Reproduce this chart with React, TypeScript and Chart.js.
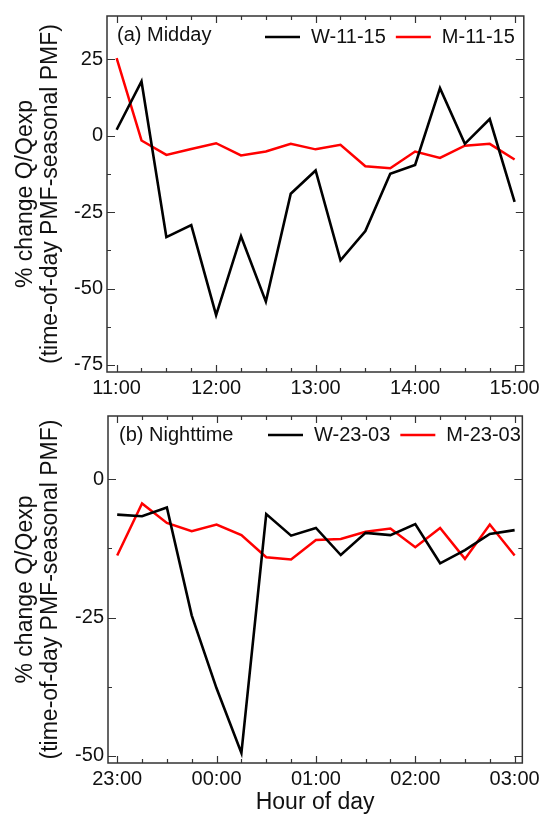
import React, { useEffect, useRef } from 'react';
import { Chart, registerables } from 'chart.js';

Chart.register(...registerables);

// ---- data ----
const quarterSteps = [0, 1, 2, 3, 4, 5, 6, 7, 8, 9, 10, 11, 12, 13, 14, 15, 16];
const middayHourLabels = ['11:00', '12:00', '13:00', '14:00', '15:00'];
const nightHourLabels = ['23:00', '00:00', '01:00', '02:00', '03:00'];

const wMidday = [1.9, 17.7, -33.2, -29.3, -58.7, -32.9, -54.3, -19.0, -11.4, -40.8, -31.2, -12.5, -9.6, 15.5, -2.7, 5.4, -21.7];
const mMidday = [25.3, -1.6, -6.3, -4.4, -2.5, -6.5, -5.2, -2.7, -4.5, -3.0, -10.0, -10.7, -5.2, -7.3, -3.3, -2.7, -7.8];

const wNight = [-6.4, -6.7, -5.1, -24.6, -37.8, -49.5, -6.3, -10.2, -8.8, -13.7, -9.7, -10.1, -8.1, -15.2, -12.8, -9.9, -9.2];
const mNight = [-13.8, -4.4, -7.9, -9.4, -8.2, -10.1, -14.1, -14.5, -11.0, -10.8, -9.5, -8.9, -12.3, -8.8, -14.4, -8.2, -13.8];

const middayYTicks = [-75, -62.5, -50, -37.5, -25, -12.5, 0, 12.5, 25];
const nightYTicks = [-50, -37.5, -25, -12.5, 0];

const FONT = '"Liberation Sans", Arial, Helvetica, sans-serif';
const TEXT = '#111111';
const FRAME = '#333333';

const decorPlugin = {
  id: 'panelDecor',
  afterDatasetsDraw(chart: any, _args: any, opts: any) {
    const { ctx, chartArea: a, scales } = chart;
    const xs = scales.x;
    const ys = scales.y;
    ctx.save();
    // frame
    ctx.strokeStyle = FRAME;
    ctx.lineWidth = 1.5;
    ctx.strokeRect(a.left, a.top, a.right - a.left, a.bottom - a.top);
    // inward ticks
    ctx.lineWidth = 1.2;
    ctx.beginPath();
    xs.ticks.forEach((t: any) => {
      if (t.value < xs.min || t.value > xs.max) return;
      const px = Math.round(xs.getPixelForValue(t.value)) + 0.5;
      const len = t.value % 4 === 0 ? 7 : 4;
      ctx.moveTo(px, a.bottom);
      ctx.lineTo(px, a.bottom - len);
      ctx.moveTo(px, a.top);
      ctx.lineTo(px, a.top + len);
    });
    ys.ticks.forEach((t: any) => {
      if (t.value < ys.min || t.value > ys.max) return;
      const py = Math.round(ys.getPixelForValue(t.value)) + 0.5;
      const len = t.value % 25 === 0 ? 8 : 4;
      ctx.moveTo(a.left, py);
      ctx.lineTo(a.left + len, py);
      ctx.moveTo(a.right, py);
      ctx.lineTo(a.right - len, py);
    });
    ctx.stroke();

    // panel label
    ctx.font = '20px ' + FONT;
    ctx.fillStyle = TEXT;
    ctx.textBaseline = 'middle';
    ctx.textAlign = 'left';
    ctx.fillText(opts.panelLabel, a.left + opts.labelDx, a.top + opts.labelDy);

    // legend
    let x = a.left + opts.legendDx;
    const y = a.top + opts.legendDy;
    chart.data.datasets.forEach((ds: any) => {
      ctx.strokeStyle = ds.borderColor;
      ctx.lineWidth = 2.5;
      ctx.beginPath();
      ctx.moveTo(x, y);
      ctx.lineTo(x + 35, y);
      ctx.stroke();
      x += 35 + 11;
      ctx.fillStyle = TEXT;
      ctx.fillText(ds.label, x, y);
      x += ctx.measureText(ds.label).width + 10;
    });
    ctx.restore();
  },
};

function makeConfig(p: any) {
  return {
    type: 'line',
    data: {
      datasets: [
        {
          label: p.wLabel,
          data: quarterSteps.map((q, i) => ({ x: q, y: p.w[i] })),
          borderColor: '#000000',
          borderWidth: 2.6,
          pointRadius: 0,
          tension: 0,
          fill: false,
        },
        {
          label: p.mLabel,
          data: quarterSteps.map((q, i) => ({ x: q, y: p.m[i] })),
          borderColor: '#ff0000',
          borderWidth: 2.5,
          pointRadius: 0,
          tension: 0,
          fill: false,
        },
      ],
    },
    options: {
      animation: false,
      responsive: false,
      maintainAspectRatio: false,
      events: [],
      layout: { padding: { top: p.padTop, right: p.padRight, left: 0, bottom: 0 } },
      plugins: {
        legend: { display: false },
        tooltip: { enabled: false },
        panelDecor: {
          panelLabel: p.panelLabel,
          labelDx: p.labelDx,
          labelDy: 19,
          legendDx: p.legendDx,
          legendDy: p.legendDy,
        },
      },
      scales: {
        x: {
          type: 'linear',
          min: p.xMin,
          max: p.xMax,
          afterBuildTicks: (s: any) => {
            s.ticks = quarterSteps.map((v) => ({ value: v }));
          },
          afterFit: (s: any) => {
            s.height = p.xHeight;
          },
          grid: { display: false, drawTicks: false, tickLength: 0 },
          border: { display: false },
          ticks: {
            autoSkip: false,
            maxRotation: 0,
            padding: 4,
            color: TEXT,
            font: { size: 20, family: FONT },
            callback: (v: any) => (Math.round(v) % 4 === 0 ? p.hourLabels[Math.round(v) / 4] : ''),
          },
          title: p.xTitle
            ? {
                display: true,
                text: p.xTitle,
                color: TEXT,
                font: { size: 23, family: FONT, lineHeight: 1 },
                padding: { top: 0, bottom: 0 },
              }
            : { display: false },
        },
        y: {
          type: 'linear',
          min: p.yMin,
          max: p.yMax,
          afterBuildTicks: (s: any) => {
            s.ticks = p.yTicks.map((v: number) => ({ value: v }));
          },
          afterFit: (s: any) => {
            s.width = p.yWidth;
          },
          grid: { display: false, drawTicks: false, tickLength: 0 },
          border: { display: false },
          ticks: {
            autoSkip: false,
            padding: 4,
            color: TEXT,
            font: { size: 20, family: FONT },
            callback: (v: any) => (v % 25 === 0 ? String(v) : ''),
          },
          title: {
            display: true,
            text: ['% change Q/Qexp', '(time-of-day PMF-seasonal PMF)'],
            color: TEXT,
            font: { size: 23, family: FONT, lineHeight: 1.1 },
            padding: { top: 13, bottom: 0 },
          },
        },
      },
    },
    plugins: [decorPlugin],
  };
}

export default function App() {
  const topRef = useRef<HTMLCanvasElement | null>(null);
  const botRef = useRef<HTMLCanvasElement | null>(null);

  useEffect(() => {
    Chart.defaults.font.family = FONT;
    Chart.defaults.color = TEXT;
    const top = new Chart(
      topRef.current as HTMLCanvasElement,
      makeConfig({
        wLabel: 'W-11-15',
        mLabel: 'M-11-15',
        w: wMidday,
        m: mMidday,
        hourLabels: middayHourLabels,
        yTicks: middayYTicks,
        panelLabel: '(a) Midday',
        labelDx: 10,
        legendDx: 158,
        legendDy: 21,
        xMin: -0.387,
        xMax: 16.37,
        yMin: -77.3,
        yMax: 39.1,
        padTop: 15,
        padRight: 17,
        xHeight: 28,
        yWidth: 107,
        xTitle: null,
      }) as any
    );
    const bot = new Chart(
      botRef.current as HTMLCanvasElement,
      makeConfig({
        wLabel: 'W-23-03',
        mLabel: 'M-23-03',
        w: wNight,
        m: mNight,
        hourLabels: nightHourLabels,
        yTicks: nightYTicks,
        panelLabel: '(b) Nighttime',
        labelDx: 11,
        legendDx: 160,
        legendDy: 19,
        xMin: -0.37,
        xMax: 16.31,
        yMin: -51.3,
        yMax: 11.43,
        padTop: 8,
        padRight: 18,
        xHeight: 51,
        yWidth: 108,
        xTitle: 'Hour of day',
      }) as any
    );
    return () => {
      top.destroy();
      bot.destroy();
    };
  }, []);

  return (
    <div style={{ position: 'absolute', left: 0, top: 0, width: 544, height: 814, background: '#ffffff' }}>
      <canvas ref={topRef} width={544} height={400} style={{ position: 'absolute', left: 0, top: 0, width: 544, height: 400 }} />
      <canvas ref={botRef} width={544} height={414} style={{ position: 'absolute', left: 0, top: 400, width: 544, height: 414 }} />
    </div>
  );
}
